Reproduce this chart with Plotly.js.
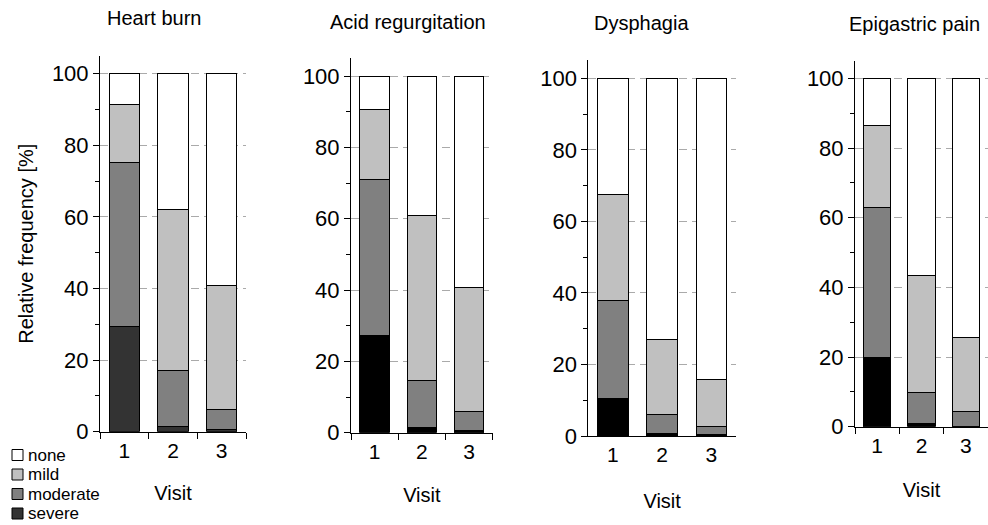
<!DOCTYPE html>
<html>
<head>
<meta charset="utf-8">
<script src="https://cdn.plot.ly/plotly-3.0.1.min.js"></script>
<style>html,body{margin:0;padding:0;background:#fff;}#chart{width:988px;height:525px;}</style>
</head>
<body>
<div id="chart"></div>
<script>
// ---- data (relative frequency %, per segment) ----
const visits = ['1', '2', '3'];
const levels = ['severe', 'moderate', 'mild', 'none'];
const panelTitles = ['Heart burn', 'Acid regurgitation', 'Dysphagia', 'Epigastric pain'];

const heartburnSevere   = [29.5, 1.4, 0.6];
const heartburnModerate = [45.6, 15.6, 5.7];
const heartburnMild     = [16.4, 45.1, 34.5];
const heartburnNone     = [8.5, 37.9, 59.2];

const acidSevere   = [27.2, 1.5, 0.7];
const acidModerate = [43.8, 13.1, 5.2];
const acidMild     = [19.5, 46.2, 34.9];
const acidNone     = [9.5, 39.2, 59.2];

const dysphagiaSevere   = [10.5, 0.6, 0.3];
const dysphagiaModerate = [27.5, 5.5, 2.3];
const dysphagiaMild     = [29.6, 20.8, 13.3];
const dysphagiaNone     = [32.4, 73.1, 84.1];

const epigastricSevere   = [19.8, 0.9, 0.2];
const epigastricModerate = [43.1, 9.0, 4.2];
const epigastricMild     = [23.7, 33.4, 21.2];
const epigastricNone     = [13.4, 56.7, 74.4];

const yTickVals = [0, 20, 40, 60, 80, 100];
const legendOrder = ['none', 'mild', 'moderate', 'severe'];

// ---- styling / layout ----
const W = 988, H = 525;
const FONT = 'Liberation Sans, Arial, sans-serif';
const panelData = [
  [heartburnSevere, heartburnModerate, heartburnMild, heartburnNone],
  [acidSevere, acidModerate, acidMild, acidNone],
  [dysphagiaSevere, dysphagiaModerate, dysphagiaMild, dysphagiaNone],
  [epigastricSevere, epigastricModerate, epigastricMild, epigastricNone]
];
const colorsFor = [
  ['#333333', '#808080', '#c0c0c0', '#ffffff'],
  ['#000000', '#808080', '#c0c0c0', '#ffffff'],
  ['#000000', '#808080', '#c0c0c0', '#ffffff'],
  ['#000000', '#808080', '#c0c0c0', '#ffffff']
];
const legendColors = {none: '#ffffff', mild: '#c0c0c0', moderate: '#808080', severe: '#333333'};
// pixel boxes: [x0, x1, yBottom(value 0), yTop(value 105)]
const boxes = [
  [100, 246, 431.7, 55.8],
  [351, 492.7, 432.7, 58.2],
  [588.3, 736, 436, 60.4],
  [855, 988, 426.7, 61]
];
const titlePos = [[154, 18], [408, 22], [641.7, 23], [914, 24]];
const xTicks = ['outside', 'outside', '', 'outside'];
const visitStandoff = [25, 26, 28, 27];

const traces = [];
const layout = {
  width: W, height: H,
  margin: {l: 0, r: 0, t: 0, b: 0, autoexpand: false},
  paper_bgcolor: '#fff', plot_bgcolor: 'rgba(0,0,0,0)',
  barmode: 'stack',
  bargap: 0.38,
  font: {family: FONT, color: '#000', size: 20},
  showlegend: false,
  annotations: [],
  shapes: [],
  hovermode: false
};

panelData.forEach((segs, p) => {
  const n = p + 1;
  const xa = 'x' + (n === 1 ? '' : n), ya = 'y' + (n === 1 ? '' : n);
  segs.forEach((vals, k) => {
    traces.push({
      type: 'bar', x: visits, y: vals, name: levels[k],
      xaxis: xa, yaxis: ya,
      marker: {color: colorsFor[p][k], line: {color: '#000', width: 1}}
    });
  });
  const b = boxes[p];
  layout['xaxis' + (n === 1 ? '' : n)] = {
    domain: [b[0] / W, b[1] / W], anchor: ya, automargin: false,
    type: 'category', range: [-0.5, 2.5],
    showline: true, linecolor: '#000', linewidth: 1,
    ticks: xTicks[p], tickson: 'boundaries', ticklen: 6, tickcolor: '#000',
    showgrid: false, zeroline: false,
    tickfont: {size: 21, family: FONT},
    title: {text: 'Visit', font: {size: 20, family: FONT}, standoff: visitStandoff[p]},
    fixedrange: true
  };
  layout['yaxis' + (n === 1 ? '' : n)] = {
    domain: [1 - b[2] / H, 1 - b[3] / H], anchor: xa, automargin: false,
    range: [0, 105], tickvals: yTickVals,
    showline: true, linecolor: '#000', linewidth: 1,
    ticks: 'outside', ticklen: 6, tickcolor: '#000',
    minor: {dtick: 10, tick0: 0, ticks: 'outside', ticklen: 4, tickcolor: '#000', showgrid: false},
    showgrid: true, gridcolor: '#aaaaaa', griddash: '8px,5px', gridwidth: 1,
    zeroline: false,
    tickfont: {size: 22, family: FONT},
    title: p === 0 ? {text: 'Relative frequency [%]', font: {size: 20, family: FONT}, standoff: 12} : {text: ''},
    fixedrange: true
  };
  layout.annotations.push({
    text: panelTitles[p], xref: 'paper', yref: 'paper',
    x: titlePos[p][0] / W, y: 1 - titlePos[p][1] / H,
    xanchor: 'center', yanchor: 'middle', showarrow: false,
    font: {size: 20, family: FONT, color: '#000'}
  });
});

// custom legend (bottom-left)
const legRows = [455, 474.5, 494, 513.5];
legendOrder.forEach((name, i) => {
  const cy = legRows[i];
  layout.shapes.push({
    type: 'rect', xref: 'paper', yref: 'paper',
    x0: 12 / W, x1: 23 / W, y0: 1 - (cy + 5.5) / H, y1: 1 - (cy - 5.5) / H,
    fillcolor: legendColors[name], line: {color: '#000', width: 1}
  });
  layout.annotations.push({
    text: name, xref: 'paper', yref: 'paper',
    x: 26 / W, y: 1 - cy / H, xanchor: 'left', yanchor: 'middle', showarrow: false,
    font: {size: 17, family: FONT, color: '#000'}
  });
});

Plotly.newPlot('chart', traces, layout, {displayModeBar: false, staticPlot: true});
</script>
</body>
</html>
